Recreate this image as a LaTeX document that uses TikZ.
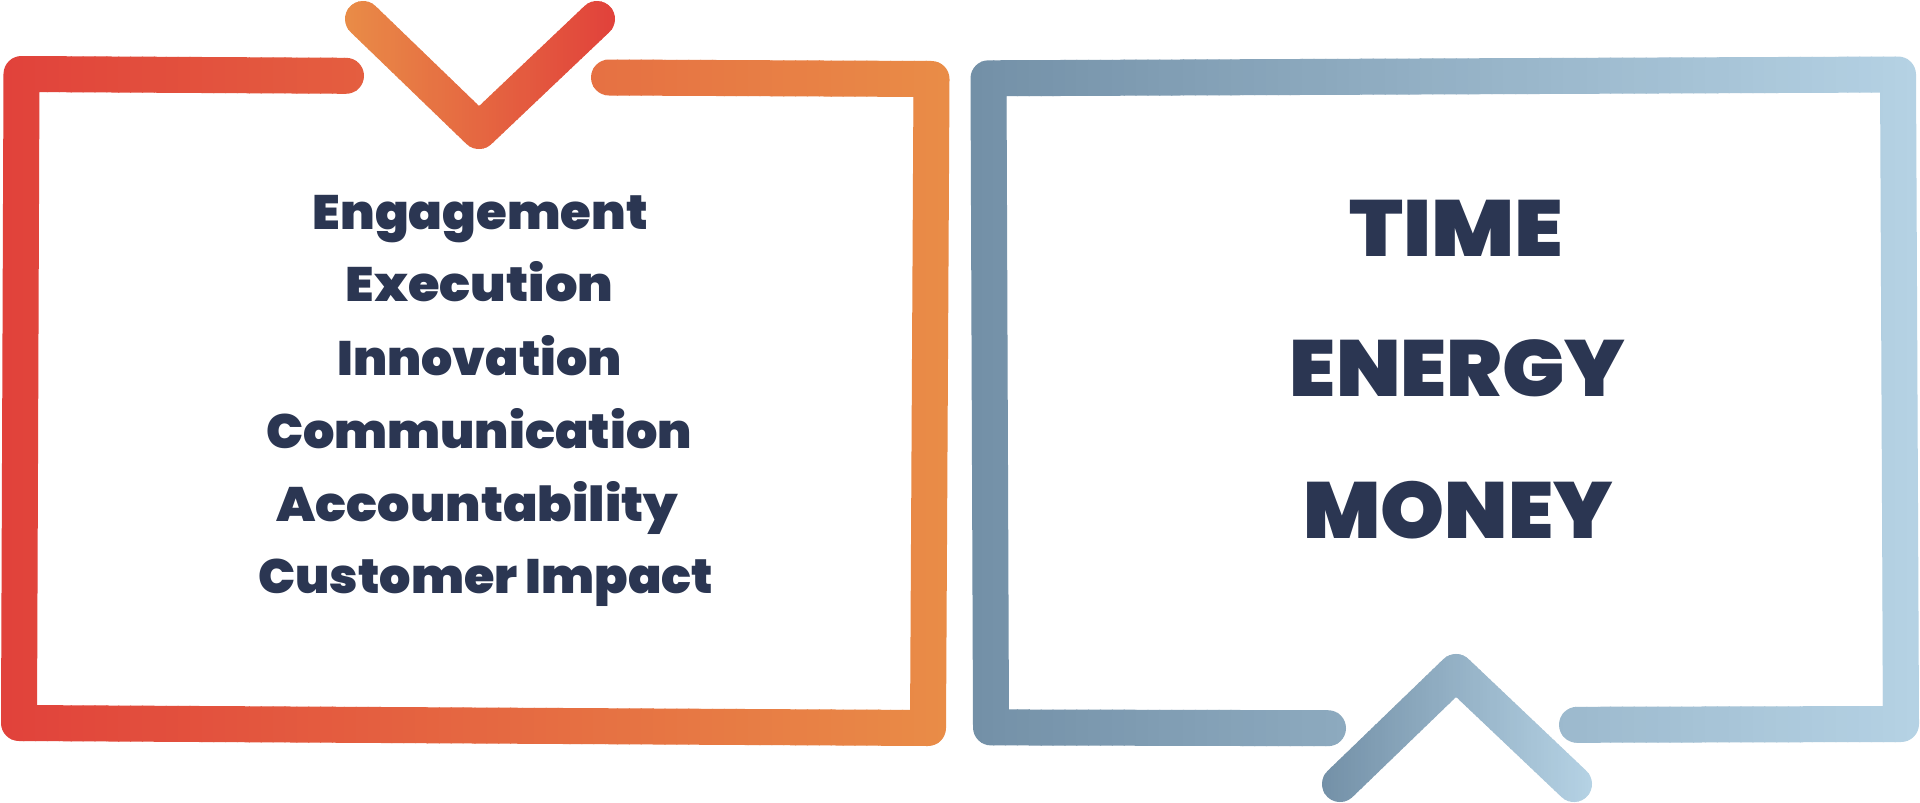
\documentclass[tikz,border=0pt]{standalone}
\usepackage{fontspec}
\usepackage{graphicx}
\setmainfont{DejaVu Sans}
\IfFontExistsTF{Poppins Black}{%
  \newfontfamily\blackfontx{Poppins Black}\def\blackfont{\blackfontx}\def\capr{0.70}}{%
  \IfFontExistsTF{Fira Sans Black}{%
    \newfontfamily\blackfontx{Fira Sans Black}\def\blackfont{\blackfontx}\def\capr{0.689}}{%
    \newfontfamily\blackfontx{DejaVu Sans}[BoldFeatures={FakeBold=6}]\def\blackfont{\blackfontx\bfseries}\def\capr{0.729}}}
\definecolor{cred}{HTML}{E1423B}
\definecolor{corange}{HTML}{E98C47}
\definecolor{cdark}{HTML}{7390A7}
\definecolor{clight}{HTML}{B5D2E4}
\definecolor{navy}{HTML}{2B3652}
\pgfmathsetmacro{\lsz}{33.8/\capr}
\pgfmathsetmacro{\rsz}{55.7/\capr}
\newcommand{\fitw}[2]{\resizebox{#1pt}{\height}{#2}}
\newcommand{\gradstroke}[5]{%
  \foreach \i in {0,...,79}{%
    \pgfmathsetmacro{\xa}{#1+(#2-#1)/80*\i}%
    \pgfmathsetmacro{\xb}{#1+(#2-#1)/80*(\i+1)}%
    \pgfmathsetmacro{\pc}{100-(\i+0.5)*1.25}%
    \begin{scope}
      \clip (\xa-0.6,-10) rectangle (\xb+0.6,820);
      \draw[bandline, color={#3!\pc!#4}] #5;
    \end{scope}
  }%
}
\tikzset{
  bandline/.style={line width=36pt, line cap=round, line join=round},
  leftlabel/.style={anchor=base, text=navy, font=\blackfont\fontsize{\lsz}{\lsz}\selectfont, inner sep=0pt},
  rightlabel/.style={anchor=base, text=navy, font=\blackfont\fontsize{\rsz}{\rsz}\selectfont, inner sep=0pt},
}
\begin{document}
\begin{tikzpicture}[x=1pt,y=-1pt]
\useasboundingbox (0,0) rectangle (1920,803);
\fill[white] (0,0) rectangle (1920,803);
% left box
\coordinate (la) at (346,75.8);
\coordinate (ltl) at (21.5,74);
\coordinate (lbl) at (19,723);
\coordinate (lbr) at (928,728);
\coordinate (ltr) at (931.5,79);
\coordinate (lb) at (609,77.5);
\gradstroke{0}{950}{cred}{corange}{(la) -- (ltl) -- (lbl) -- (lbr) -- (ltr) -- (lb)}
% V
\coordinate (v1) at (363,19);
\coordinate (v2) at (479,131);
\coordinate (v3) at (597,19);
\gradstroke{345}{615}{corange}{cred}{(v1) -- (v2) -- (v3)}
% right box
\coordinate (rc) at (1328,728.2);
\coordinate (rbl) at (991,727.4);
\coordinate (rtl) at (988.5,78.3);
\coordinate (rtr) at (1898,74.5);
\coordinate (rbr) at (1901,724);
\coordinate (rd) at (1577,724.8);
\gradstroke{970}{1919}{cdark}{clight}{(rc) -- (rbl) -- (rtl) -- (rtr) -- (rbr) -- (rd)}
% caret
\coordinate (c1) at (1340,784);
\coordinate (c2) at (1456,672);
\coordinate (c3) at (1574,784);
\gradstroke{1321}{1592}{cdark}{clight}{(c1) -- (c2) -- (c3)}
% left labels
\node[leftlabel] (t1) at (480.2,229.3) {\fitw{335}{Engagement}};
\node[leftlabel] (t2) at (479.5,301.7) {\fitw{267.6}{Execution}};
\node[leftlabel] (t3) at (479.5,375.7) {\fitw{284.4}{Innovation}};
\node[leftlabel] (t4) at (478.9,448.5) {\fitw{425.7}{Communication}};
\node[leftlabel] (t5) at (477.5,521.7) {\fitw{401.7}{Accountability}};
\node[leftlabel] (t6) at (485.8,593.3) {\fitw{455}{Customer Impact}};
% right labels
\node[rightlabel] (r1) at (1456.3,256.7) {\fitw{214}{TIME}};
\node[rightlabel] (r2) at (1457.5,396.7) {\fitw{335}{ENERGY}};
\node[rightlabel] (r3) at (1458,538.3) {\fitw{309.4}{MONEY}};
\end{tikzpicture}
\end{document}
